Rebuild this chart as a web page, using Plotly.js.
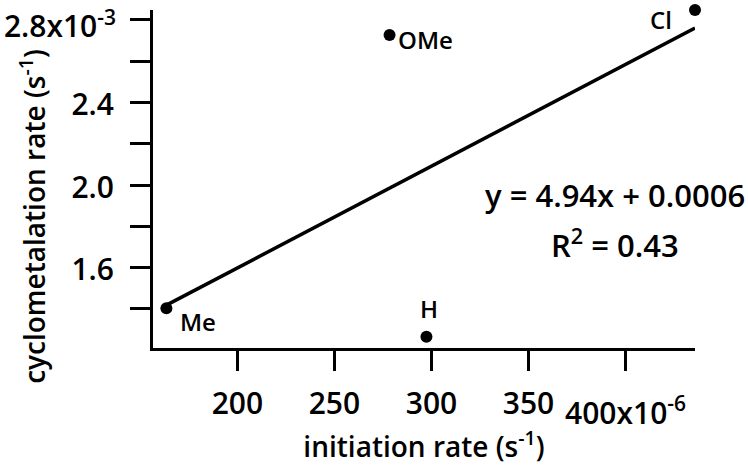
<!DOCTYPE html>
<html>
<head>
<meta charset="utf-8">
<script src="https://cdn.plot.ly/plotly-3.0.1.min.js"></script>
<style>html,body{margin:0;padding:0;background:#fff;}#chart{width:748px;height:465px;}</style>
</head>
<body>
<div id="chart"></div>
<script>
// Data (initiation rate in 10^-6 s^-1, cyclometalation rate in 10^-3 s^-1)
var substituents = ["Me", "H", "OMe", "Cl"];
var initiationRate = [163.4, 297.4, 278.4, 435.8];
var cyclometalationRate = [1.403, 1.266, 2.727, 2.848];

// Axis ticks (labelled and unlabelled)
var xTickVals = [200, 250, 300, 350];
var xTickText = ["200", "250", "300", "350"];
var xMinorTickVals = [400];
var xExpTickVals = [400];
var xExpTickText = ["400x10<sup>-6</sup>"];
var yTickVals = [1.6, 2.0, 2.4];
var yTickText = ["1.6", "2.0", "2.4"];
var yMinorTickVals = [1.4, 1.8, 2.2, 2.6, 2.8];
var yExpTickVals = [2.8];
var yExpTickText = ["2.8x10<sup>-3</sup>"];

// Fit annotation text
var fitEquation = "y = 4.94x + 0.0006";
var fitR2 = "R<sup>2</sup> = 0.43";

// least squares fit from the data
var n = initiationRate.length, mx = 0, my = 0;
for (var i = 0; i < n; i++) { mx += initiationRate[i]; my += cyclometalationRate[i]; }
mx /= n; my /= n;
var sxy = 0, sxx = 0;
for (var i = 0; i < n; i++) { sxy += (initiationRate[i]-mx)*(cyclometalationRate[i]-my); sxx += (initiationRate[i]-mx)*(initiationRate[i]-mx); }
var slope = sxy / sxx, intercept = my - slope * mx;
var xmin = Math.min.apply(null, initiationRate), xmax = Math.max.apply(null, initiationRate);
var fitX = [xmin, xmax];
var fitY = fitX.map(function (v) { return intercept + slope * v; });

var xRange = [156.5, 435.8];
var yRange = [1.211, 2.848];

var FONT = "Open Sans, DejaVu Sans, sans-serif";
var W = 600;
var labelOffsets = { "Me": [32, -13], "H": [3, 28], "OMe": [36, -5], "Cl": [-34, -9] };

var traces = [
  { x: fitX, y: fitY, xaxis: "x2", yaxis: "y2", mode: "lines", line: { color: "#000", width: 3.5 }, hoverinfo: "skip", showlegend: false, cliponaxis: false },
  { x: initiationRate, y: cyclometalationRate, mode: "markers", marker: { color: "#000", size: 12 }, showlegend: false, cliponaxis: false }
];

var annotations = substituents.map(function (s, i) {
  return { x: initiationRate[i], y: cyclometalationRate[i], xref: "x", yref: "y", text: s, showarrow: false,
    xanchor: "center", yanchor: "middle", xshift: labelOffsets[s][0], yshift: labelOffsets[s][1],
    font: { family: FONT, size: 24, color: "#000", weight: W } };
});
annotations.push({ xref: "paper", yref: "paper", x: 0.8518, y: 0.454, text: fitEquation, showarrow: false, xanchor: "center", yanchor: "middle", font: { family: FONT, size: 31, color: "#000", weight: W } });
annotations.push({ xref: "paper", yref: "paper", x: 0.8518, y: 0.31, text: fitR2, showarrow: false, xanchor: "center", yanchor: "middle", font: { family: FONT, size: 31, color: "#000", weight: W } });
annotations.push({ xref: "paper", yref: "paper", x: -0.222, y: 0.39, text: "cyclometalation rate (s<sup>-1</sup>)", textangle: -90, showarrow: false, xanchor: "center", yanchor: "middle", font: { family: FONT, size: 28, color: "#000", weight: W } });

var tickFont = { family: FONT, size: 30, color: "#000", weight: W };
var axisCommon = { showgrid: false, zeroline: false, ticks: "outside", ticklen: 20, tickwidth: 3, tickcolor: "#000", tickfont: tickFont, tickmode: "array", ticklabeloverflow: "allow" };
var minorCommon = { ticks: "outside", ticklen: 20, tickwidth: 3, tickcolor: "#000", tickmode: "array", showgrid: false };

var layout = {
  width: 748, height: 465,
  margin: { l: 153, r: 53, t: 10, b: 117 },
  paper_bgcolor: "#fff", plot_bgcolor: "#fff",
  showlegend: false,
  xaxis: Object.assign({}, axisCommon, { range: xRange, tickvals: xTickVals, ticktext: xTickText, minor: Object.assign({}, minorCommon, { tickvals: xMinorTickVals }),
    showline: true, linewidth: 3, linecolor: "#000", ticklabelstandoff: 7,
    title: { text: "initiation rate (s<sup>-1</sup>)", font: { family: FONT, size: 28, color: "#000", weight: W }, standoff: 25 } }),
  yaxis: Object.assign({}, axisCommon, { range: yRange, tickvals: yTickVals, ticktext: yTickText, minor: Object.assign({}, minorCommon, { tickvals: yMinorTickVals }),
    showline: true, linewidth: 3, linecolor: "#000", ticklabelstandoff: 10, ticklabelshift: 2 }),
  xaxis2: Object.assign({}, axisCommon, { range: xRange, overlaying: "x", anchor: "y2", side: "bottom", tickvals: xExpTickVals, ticktext: xExpTickText, showline: false, tickcolor: "rgba(0,0,0,0)", ticklabelstandoff: 19 }),
  yaxis2: Object.assign({}, axisCommon, { range: yRange, overlaying: "y", anchor: "x2", side: "left", tickvals: yExpTickVals, ticktext: yExpTickText, showline: false, tickcolor: "rgba(0,0,0,0)", ticklabelstandoff: 10, ticklabelshift: 7 }),
  annotations: annotations
};

Plotly.newPlot("chart", traces, layout, { staticPlot: true, displayModeBar: false });
</script>
</body>
</html>
